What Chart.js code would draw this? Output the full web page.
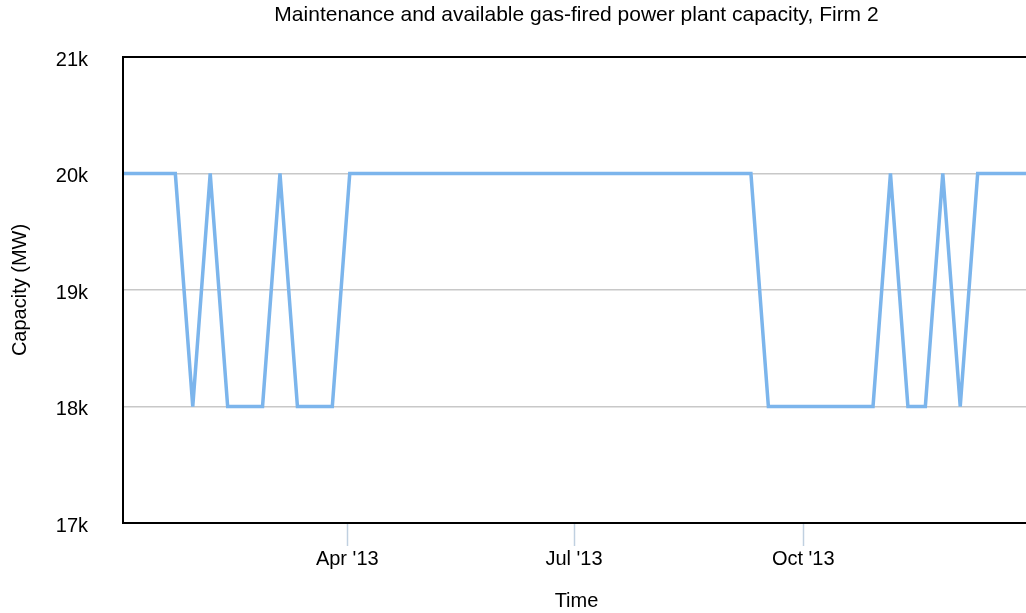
<!DOCTYPE html>
<html>
<head>
<meta charset="utf-8">
<script src="https://cdn.jsdelivr.net/npm/chart.js@4/dist/chart.umd.min.js"></script>
<style>
  html, body { margin: 0; padding: 0; background: #fff; overflow: hidden; }
  #wrap { position: relative; width: 1030px; height: 613px; }
</style>
</head>
<body>
<div id="wrap"><canvas id="chart"></canvas></div>
<script>
// weekly observations, 2013
var weekDates = [
  '2013-01-01','2013-01-08','2013-01-15','2013-01-22','2013-01-29',
  '2013-02-05','2013-02-12','2013-02-19','2013-02-26',
  '2013-03-05','2013-03-12','2013-03-19','2013-03-26',
  '2013-04-02','2013-04-09','2013-04-16','2013-04-23','2013-04-30',
  '2013-05-07','2013-05-14','2013-05-21','2013-05-28',
  '2013-06-04','2013-06-11','2013-06-18','2013-06-25',
  '2013-07-02','2013-07-09','2013-07-16','2013-07-23','2013-07-30',
  '2013-08-06','2013-08-13','2013-08-20','2013-08-27',
  '2013-09-03','2013-09-10','2013-09-17','2013-09-24',
  '2013-10-01','2013-10-08','2013-10-15','2013-10-22','2013-10-29',
  '2013-11-05','2013-11-12','2013-11-19','2013-11-26',
  '2013-12-03','2013-12-10','2013-12-17','2013-12-24','2013-12-31'
];
var capacity = [
  20000, 20000, 20000, 20000, 18000,
  20000, 18000, 18000, 18000,
  20000, 18000, 18000, 18000,
  20000, 20000, 20000, 20000, 20000,
  20000, 20000, 20000, 20000,
  20000, 20000, 20000, 20000,
  20000, 20000, 20000, 20000, 20000,
  20000, 20000, 20000, 20000,
  20000, 20000, 18000, 18000,
  18000, 18000, 18000, 18000, 18000,
  20000, 18000, 18000, 20000,
  18000, 20000, 20000, 20000, 20000
];
var tickDates = ['2013-04-01', '2013-07-01', '2013-10-01'];
var tickLabels = ["Apr '13", "Jul '13", "Oct '13"];
var yTicks = [17000, 18000, 19000, 20000, 21000];
var chartTitle = 'Maintenance and available gas-fired power plant capacity, Firm 2';

var FONT = "'Liberation Sans', Arial, Helvetica, sans-serif";
var start = Date.UTC(2013, 0, 1);
function dayOf(s) {
  var p = s.split('-');
  return (Date.UTC(+p[0], +p[1] - 1, +p[2]) - start) / 86400000;
}
var points = weekDates.map(function(d, i) { return {x: dayOf(d), y: capacity[i]}; });
var tickDays = tickDates.map(dayOf);

// black frame on left, top and bottom of the plot + title centred over the plot
var frame = {
  id: 'frame',
  afterDraw: function(chart) {
    var a = chart.chartArea, ctx = chart.ctx;
    ctx.save();
    ctx.strokeStyle = '#000';
    ctx.lineWidth = 2;
    ctx.beginPath();
    ctx.moveTo(a.right + 2, a.top);
    ctx.lineTo(a.left, a.top);
    ctx.lineTo(a.left, a.bottom);
    ctx.lineTo(a.right + 2, a.bottom);
    ctx.stroke();
    ctx.fillStyle = '#000';
    ctx.font = '21px ' + FONT;
    ctx.textAlign = 'center';
    ctx.textBaseline = 'alphabetic';
    ctx.fillText(chartTitle, (a.left + a.right) / 2, 21);
    ctx.restore();
  }
};

new Chart(document.getElementById('chart'), {
  type: 'line',
  data: {
    datasets: [{
      data: points,
      borderColor: '#7cb5ec',
      borderWidth: 3.5,
      pointRadius: 0,
      tension: 0,
      fill: false
    }]
  },
  options: {
    responsive: true,
    maintainAspectRatio: false,
    animation: false,
    layout: { padding: { top: 57, left: 0, right: 0, bottom: 0 } },
    plugins: {
      legend: { display: false },
      tooltip: { enabled: false },
      title: { display: false }
    },
    scales: {
      x: {
        type: 'linear',
        min: 0,
        max: 364,
        afterBuildTicks: function(s) {
          s.ticks = tickDays.map(function(v) { return {value: v}; });
        },
        afterFit: function(s) { s.height = 90; },
        grid: {
          drawOnChartArea: false,
          drawTicks: true,
          tickLength: 23,
          tickColor: '#c0d0e0',
          tickWidth: 1.5
        },
        border: { display: false },
        ticks: {
          color: '#000',
          font: { family: FONT, size: 20 },
          padding: 1,
          maxRotation: 0,
          callback: function(v) {
            var i = tickDays.indexOf(v);
            return i >= 0 ? tickLabels[i] : '';
          }
        },
        title: {
          display: true,
          text: 'Time',
          color: '#000',
          font: { family: FONT, size: 20 },
          padding: { top: 16, bottom: 0 }
        }
      },
      y: {
        min: 17000,
        max: 21000,
        afterBuildTicks: function(s) {
          s.ticks = yTicks.map(function(v) { return {value: v}; });
        },
        afterFit: function(s) { s.width = 123; },
        grid: {
          color: '#c8c8c8',
          lineWidth: 1.5,
          drawTicks: false
        },
        border: { display: false },
        ticks: {
          color: '#000',
          font: { family: FONT, size: 20 },
          padding: 35,
          labelOffset: 3,
          callback: function(v) { return (v / 1000) + 'k'; }
        },
        title: {
          display: true,
          text: 'Capacity (MW)',
          color: '#000',
          font: { family: FONT, size: 20 },
          padding: { top: 8, bottom: 0 }
        }
      }
    }
  },
  plugins: [frame]
});
</script>
</body>
</html>
